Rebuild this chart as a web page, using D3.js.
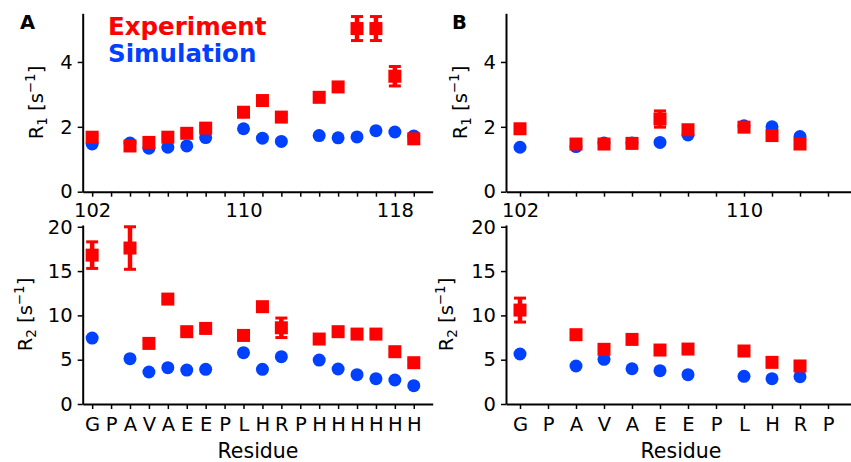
<!DOCTYPE html>
<html>
<head>
<meta charset="utf-8">
<style>
    body { margin: 0; background: #fff; }
    svg { font-family: "DejaVu Sans", sans-serif; }
    .axis path, .axis line { stroke: #000; }
    .axis path { stroke-width: 2px; }
    .axis line { stroke-width: 1.5px; }
    .axis text { font-size: 19.5px; fill: #000; font-family: "DejaVu Sans", sans-serif; }
</style>
</head>
<body>
<script src="https://d3js.org/d3.v7.min.js"></script>
<script>
    var width = 851,
        height = 462;

    var red = "#ff0000",
        blue = "#0040ff";

    // residues and sequence
    var residuesA = [102, 103, 104, 105, 106, 107, 108, 109, 110, 111, 112, 113, 114, 115, 116, 117, 118, 119];
    var seqA = ["G", "P", "A", "V", "A", "E", "E", "P", "L", "H", "R", "P", "H", "H", "H", "H", "H", "H"];
    var residuesB = [102, 103, 104, 105, 106, 107, 108, 109, 110, 111, 112, 113];
    var seqB = ["G", "P", "A", "V", "A", "E", "E", "P", "L", "H", "R", "P"];
    var numTicksA = [102, 110, 118];
    var numTicksB = [102, 110];

    // panel A
    var r1ExpA = [1.68, null, 1.41, 1.52, 1.68, 1.80, 1.96, null, 2.45, 2.81, 2.30, null, 2.91, 3.23, 5.03, 5.03, 3.56, 1.63];
    var r1ErrA = [0.06, null, 0.05, 0.05, 0.05, 0.06, 0.08, null, 0.1, 0.1, 0.08, null, 0.1, 0.1, 0.37, 0.37, 0.3, 0.05];
    var r1SimA = [1.47, null, 1.50, 1.34, 1.37, 1.41, 1.67, null, 1.94, 1.65, 1.55, null, 1.73, 1.66, 1.69, 1.88, 1.84, 1.72];
    var r2ExpA = [16.8, null, 17.6, 6.84, 11.84, 8.16, 8.53, null, 7.74, 10.98, 8.6, null, 7.33, 8.16, 7.89, 7.89, 5.90, 4.66];
    var r2ErrA = [1.5, null, 2.4, 0.3, 0.3, 0.3, 0.3, null, 0.3, 0.3, 1.1, null, 0.3, 0.4, 0.3, 0.3, 0.3, 0.3];
    var r2SimA = [7.44, null, 5.11, 3.61, 4.10, 3.83, 3.91, null, 5.79, 3.91, 5.34, null, 4.96, 3.95, 3.31, 2.86, 2.71, 2.07];

    // panel B
    var r1ExpB = [1.94, null, 1.47, 1.47, 1.49, 2.24, 1.91, null, 1.99, 1.73, 1.47, null];
    var r1ErrB = [0.05, null, 0.05, 0.05, 0.05, 0.25, 0.08, null, 0.05, 0.05, 0.05, null];
    var r1SimB = [1.37, null, 1.39, 1.50, 1.50, 1.52, 1.75, null, 2.03, 2.00, 1.70, null];
    var r2ExpB = [10.6, null, 7.82, 6.17, 7.29, 6.09, 6.2, null, 5.98, 4.70, 4.29, null];
    var r2ErrB = [1.35, null, 0.3, 0.3, 0.3, 0.3, 0.3, null, 0.3, 0.3, 0.3, null];
    var r2SimB = [5.64, null, 4.29, 5.04, 3.98, 3.76, 3.31, null, 3.12, 2.86, 3.08, null];

    var svg = d3.select("body")
        .append("svg")
        .attr("width", width)
        .attr("height", height);

    var sq = 13, rad = 6.5;

    function drawPanel(p) {
        var x = d3.scaleLinear().domain([101.5, p.xmax]).range([p.left, p.left + 350]);
        var y = d3.scaleLinear().domain(p.ydom).range([p.bottom, p.top]);

        var ticks = p.residues.filter(function (r) { return r <= p.xmax; });

        // x axis
        var xAxis = d3.axisBottom(x)
            .tickValues(ticks)
            .tickSize(5)
            .tickPadding(p.letters ? 8 : 6)
            .tickSizeOuter(0)
            .tickFormat(function (d, i) {
                if (p.letters) return p.seq[p.residues.indexOf(d)];
                return p.numTicks.indexOf(d) >= 0 ? d : "";
            });
        svg.append("g")
            .attr("class", "axis")
            .attr("transform", "translate(0," + p.bottom + ")")
            .call(xAxis);

        // y axis
        var yAxis = d3.axisLeft(y)
            .tickValues(p.yticks)
            .tickSize(5)
            .tickPadding(5)
            .tickSizeOuter(0)
            .tickFormat(d3.format("d"));
        svg.append("g")
            .attr("class", "axis")
            .attr("transform", "translate(" + p.left + ",0)")
            .call(yAxis);

        // y label
        var lab = svg.append("text")
            .attr("transform", "translate(" + p.labelX + "," + ((p.top + p.bottom) / 2) + ") rotate(-90)")
            .attr("text-anchor", "middle")
            .attr("font-size", 19.5);
        lab.append("tspan").text("R");
        lab.append("tspan").attr("font-size", 13.5).attr("dy", 4).text(p.sub);
        lab.append("tspan").attr("dy", -4).text(" [s");
        lab.append("tspan").attr("font-size", 13.5).attr("dy", -8).text("\u22121");
        lab.append("tspan").attr("dy", 8).text("]");

        var pts = p.residues.map(function (r, i) {
            return { r: r, exp: p.exp[i], err: p.err[i], sim: p.sim[i] };
        });

        // simulation circles
        svg.append("g").selectAll("circle")
            .data(pts.filter(function (d) { return d.sim != null; }))
            .enter()
            .append("circle")
            .attr("cx", function (d) { return x(d.r); })
            .attr("cy", function (d) { return y(d.sim); })
            .attr("r", rad)
            .attr("fill", blue);

        var ex = pts.filter(function (d) { return d.exp != null; });
        var eg = svg.append("g");

        // error bars
        eg.selectAll("line.bar")
            .data(ex)
            .enter()
            .append("line")
            .attr("x1", function (d) { return x(d.r); })
            .attr("x2", function (d) { return x(d.r); })
            .attr("y1", function (d) { return y(d.exp - d.err); })
            .attr("y2", function (d) { return y(d.exp + d.err); })
            .attr("stroke", red)
            .attr("stroke-width", 4.5);
        [-1, 1].forEach(function (s) {
            eg.selectAll("line.cap" + s)
                .data(ex)
                .enter()
                .append("line")
                .attr("x1", function (d) { return x(d.r) - 6; })
                .attr("x2", function (d) { return x(d.r) + 6; })
                .attr("y1", function (d) { return y(d.exp + s * d.err); })
                .attr("y2", function (d) { return y(d.exp + s * d.err); })
                .attr("stroke", red)
                .attr("stroke-width", 3);
        });

        // experiment squares
        eg.selectAll("rect")
            .data(ex)
            .enter()
            .append("rect")
            .attr("x", function (d) { return x(d.r) - sq / 2; })
            .attr("y", function (d) { return y(d.exp) - sq / 2; })
            .attr("width", sq)
            .attr("height", sq)
            .attr("fill", red);
    }

    // Panel A
    drawPanel({ left: 82.7, top: 13.3, bottom: 191.7, ydom: [0, 5.5], yticks: [0, 2, 4], xmax: 120,
        residues: residuesA, seq: seqA, numTicks: numTicksA, letters: false,
        exp: r1ExpA, err: r1ErrA, sim: r1SimA, sub: "1", labelX: 43 });
    drawPanel({ left: 82.7, top: 225, bottom: 404, ydom: [0, 20.2], yticks: [0, 5, 10, 15, 20], xmax: 120,
        residues: residuesA, seq: seqA, numTicks: numTicksA, letters: true,
        exp: r2ExpA, err: r2ErrA, sim: r2SimA, sub: "2", labelX: 32 });

    // Panel B
    drawPanel({ left: 506, top: 13.3, bottom: 191.7, ydom: [0, 5.5], yticks: [0, 2, 4], xmax: 114,
        residues: residuesB, seq: seqB, numTicks: numTicksB, letters: false,
        exp: r1ExpB, err: r1ErrB, sim: r1SimB, sub: "1", labelX: 467 });
    drawPanel({ left: 506, top: 225, bottom: 404, ydom: [0, 20.2], yticks: [0, 5, 10, 15, 20], xmax: 114,
        residues: residuesB, seq: seqB, numTicks: numTicksB, letters: true,
        exp: r2ExpB, err: r2ErrB, sim: r2SimB, sub: "2", labelX: 453 });

    // x labels
    svg.append("text").attr("x", 258).attr("y", 458).attr("text-anchor", "middle")
        .attr("font-size", 20.5).text("Residue");
    svg.append("text").attr("x", 681).attr("y", 458).attr("text-anchor", "middle")
        .attr("font-size", 20.5).text("Residue");

    // panel letters
    svg.append("text").attr("x", 20).attr("y", 29).attr("font-weight", "bold")
        .attr("font-size", 19.5).text("A");
    svg.append("text").attr("x", 452).attr("y", 29).attr("font-weight", "bold")
        .attr("font-size", 19.5).text("B");

    // legend
    svg.append("text").attr("x", 108).attr("y", 35).attr("font-weight", "bold")
        .attr("font-size", 24.5).attr("fill", red).text("Experiment");
    svg.append("text").attr("x", 108).attr("y", 62).attr("font-weight", "bold")
        .attr("font-size", 24.5).attr("fill", blue).text("Simulation");
</script>
</body>
</html>
